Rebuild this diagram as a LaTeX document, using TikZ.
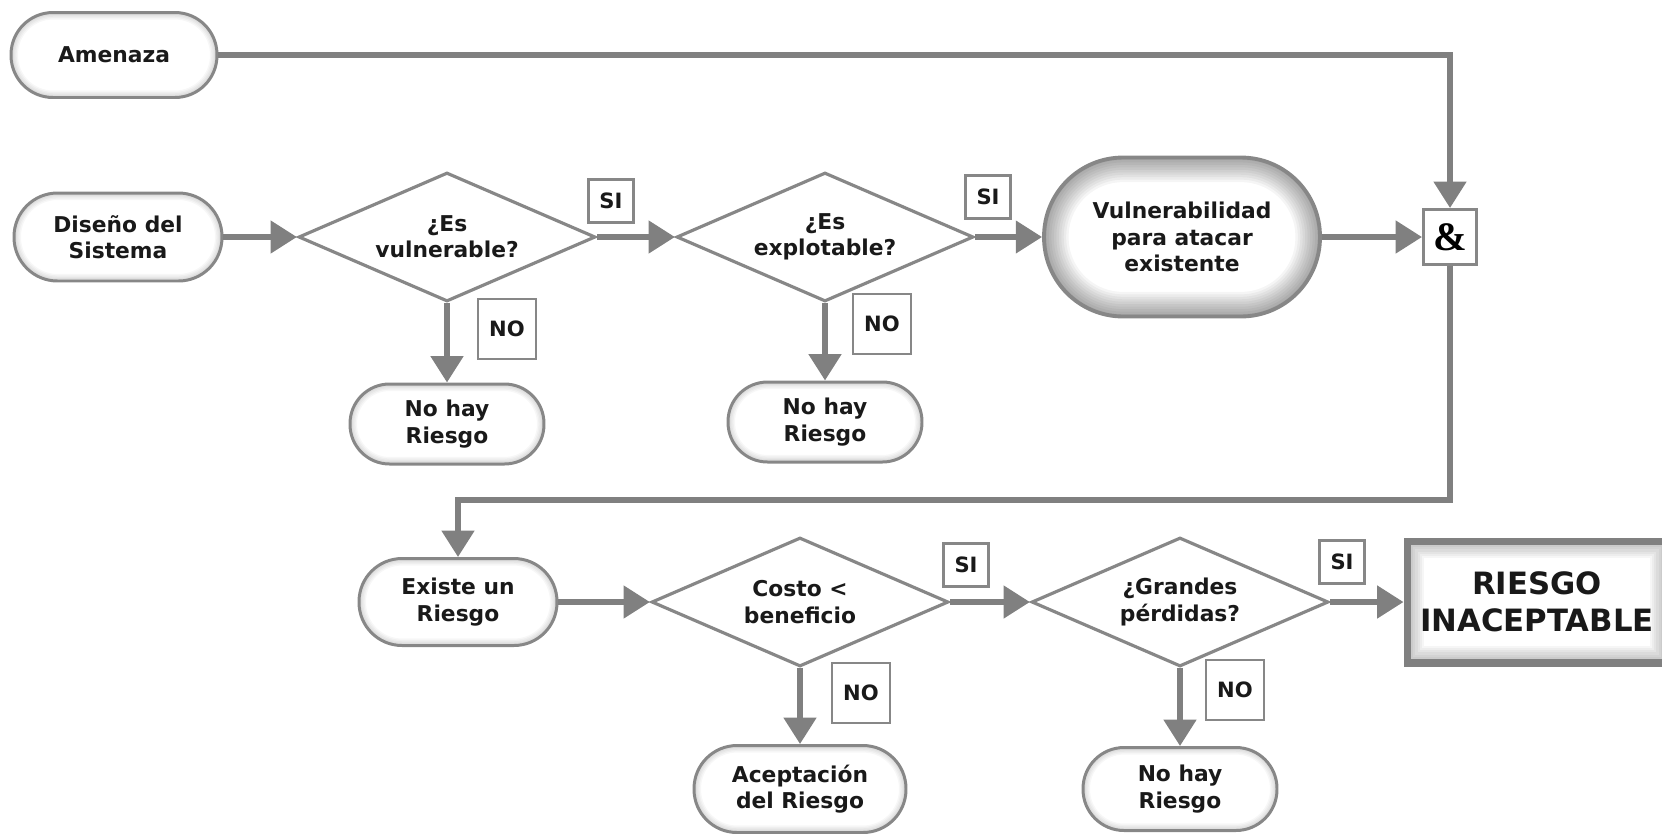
\documentclass[tikz,border=0pt]{standalone}
\usepackage{fontspec}
\setmainfont{DejaVu Sans}
\newfontfamily\ampfont{Liberation Serif}
\usetikzlibrary{shapes.geometric,arrows.meta}
\definecolor{linegray}{RGB}{128,128,128}
\definecolor{bordergray}{RGB}{135,135,135}
\definecolor{txt}{RGB}{25,25,25}
\newcommand\nodefont{\fontsize{12.4}{15}\selectfont\bfseries}
\newcommand\lblfont{\fontsize{12}{14}\selectfont\bfseries}
\newcommand\bigfont{\fontsize{17.5}{21}\selectfont\bfseries}
\tikzset{
  term/.style={rectangle, draw=bordergray, line width=1.7pt, fill=white,
    rounded corners=#1, inner sep=0pt, align=center, font=\nodefont, text=txt,
    path picture={\foreach \k in {1,...,5}{\draw[line width=\k*1.6pt, draw=black,
      draw opacity=0.03, rounded corners=#1] (path picture bounding box.south west)
      rectangle (path picture bounding box.north east);}}},
  vterm/.style={rectangle, draw=bordergray, line width=2.2pt, fill=white,
    rounded corners=#1, inner sep=0pt, align=center, font=\nodefont, text=txt,
    path picture={\foreach \k in {1,...,10}{\draw[line width=\k*2.8pt, draw=black,
      draw opacity=0.04, rounded corners=#1] (path picture bounding box.south west)
      rectangle (path picture bounding box.north east);}}},
  dec/.style={diamond, aspect=2.3, draw=bordergray, line width=1.8pt, fill=white,
    inner sep=0pt, minimum width=5.94cm, minimum height=2.58cm, align=center,
    font=\nodefont, text=txt},
  lbl/.style={rectangle, draw=bordergray, line width=1.5pt, fill=white,
    inner sep=0pt, font=\lblfont, text=txt},
  andbox/.style={rectangle, draw=bordergray, line width=1.7pt, fill=white,
    inner sep=0pt, minimum width=1.06cm, minimum height=1.1cm,
    font=\ampfont\fontsize{23}{25}\selectfont\bfseries},
  riesgo/.style={rectangle, draw=linegray, line width=4pt, fill=white,
    inner sep=0pt, minimum width=5.2cm, minimum height=2.44cm, align=center,
    font=\bigfont, text=txt,
    path picture={\foreach \k in {1,...,8}{\draw[line width=\k*2.4pt, draw=black,
      draw opacity=0.035] (path picture bounding box.south west)
      rectangle (path picture bounding box.north east);}}},
  conn/.style={draw=linegray, line width=3.3pt, -{Triangle[length=15pt,width=18pt]}},
}
\begin{document}
\begin{tikzpicture}[x=0.02cm, y=-0.02cm]
\useasboundingbox (0,0) rectangle (1662,833);
% terminals
\node[term=0.84cm, minimum width=4.12cm, minimum height=1.7cm] (A) at (114,55) {Amenaza};
\node[term=0.87cm, minimum width=4.16cm, minimum height=1.76cm] (D) at (118,237) {Diseño del\\Sistema};
\node[term=0.79cm, minimum width=3.88cm, minimum height=1.6cm] (N1) at (447,424) {No hay\\Riesgo};
\node[term=0.79cm, minimum width=3.88cm, minimum height=1.6cm] (N2) at (825,422) {No hay\\Riesgo};
\node[vterm=1.58cm, minimum width=5.52cm, minimum height=3.18cm] (V) at (1182,237) {Vulnerabilidad\\para atacar\\existente};
\node[andbox] (AND) at (1450,237) {\&};
\node[term=0.86cm, minimum width=3.96cm, minimum height=1.74cm] (E) at (458,602) {Existe un\\Riesgo};
\node[term=0.86cm, minimum width=4.24cm, minimum height=1.74cm] (C) at (800,789) {Aceptación\\del Riesgo};
\node[term=0.82cm, minimum width=3.88cm, minimum height=1.66cm] (N3) at (1180,789) {No hay\\Riesgo};
\node[riesgo] (R) at (1537,602) {RIESGO\\INACEPTABLE};
% decisions
\node[dec] (Q1) at (447,237) {¿Es\\vulnerable?};
\node[dec] (Q2) at (825,237) {¿Es\\explotable?};
\node[dec] (Q3) at (800,602) {Costo <\\beneficio};
\node[dec] (Q4) at (1180,602) {¿Grandes\\pérdidas?};
% labels
\node[lbl, minimum width=0.9cm, minimum height=0.86cm] (si1) at (611,201) {SI};
\node[lbl, minimum width=0.9cm, minimum height=0.86cm] (si2) at (988,197) {SI};
\node[lbl, minimum width=0.9cm, minimum height=0.86cm] (si3) at (966,565) {SI};
\node[lbl, minimum width=0.9cm, minimum height=0.86cm] (si4) at (1342,562) {SI};
\node[lbl, minimum width=1.16cm, minimum height=1.2cm] (no1) at (507,329) {NO};
\node[lbl, minimum width=1.16cm, minimum height=1.2cm] (no2) at (882,324) {NO};
\node[lbl, minimum width=1.16cm, minimum height=1.2cm] (no3) at (861,693) {NO};
\node[lbl, minimum width=1.16cm, minimum height=1.2cm] (no4) at (1235,690) {NO};
% connectors
\draw[conn] (A.east) -| (AND.north);
\draw[conn] (D.east) -- (Q1.west);
\draw[conn] (Q1.east) -- (Q2.west);
\draw[conn] (Q2.east) -- (V.west);
\draw[conn] (V.east) -- (AND.west);
\draw[conn] (Q1.south) -- (N1.north);
\draw[conn] (Q2.south) -- (N2.north);
\coordinate (turn) at (458,500);
\draw[conn] (AND.south) |- (turn) -- (E.north);
\draw[conn] (E.east) -- (Q3.west);
\draw[conn] (Q3.east) -- (Q4.west);
\draw[conn] (Q4.east) -- (R.west);
\draw[conn] (Q3.south) -- (C.north);
\draw[conn] (Q4.south) -- (N3.north);
\end{tikzpicture}
\end{document}
